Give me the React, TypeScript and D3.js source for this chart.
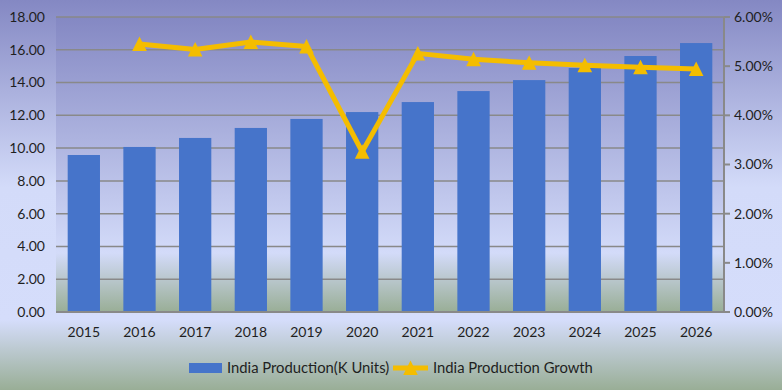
import React, { Component, createRef } from "react";
import * as d3 from 'd3';

const years = ['2015', '2016', '2017', '2018', '2019', '2020', '2021', '2022', '2023', '2024', '2025', '2026'];
const production = [9.58, 10.07, 10.62, 11.23, 11.78, 12.2, 12.81, 13.48, 14.15, 14.89, 15.62, 16.41];
const growth: (number | null)[] = [null, 5.45, 5.34, 5.49, 5.40, 3.26, 5.26, 5.14, 5.07, 5.02, 4.98, 4.94];
const leftTicks = [0, 2, 4, 6, 8, 10, 12, 14, 16, 18];
const rightTicks = [0, 1, 2, 3, 4, 5, 6];
const seriesNames = ['India Production(K Units)', 'India Production Growth'];

const barColor = '#4674CA';
const lineColor = '#F4BD00';
const gridColor = '#898989';
const textColor = '#1f1f1f';
const font = 'Lato, "Noto Sans", sans-serif';

class App extends Component {
    ref = createRef<HTMLDivElement>();

    componentDidMount() {
        const w = 782;
        const h = 390;
        const left = 56, right = 724, top = 17, bottom = 312;

        const x = d3.scaleBand<string>()
            .domain(years)
            .range([left, right])
            .paddingInner(0.42)
            .paddingOuter(0.21);
        const y = d3.scaleLinear().domain([0, 18]).range([bottom, top]);
        const yR = d3.scaleLinear().domain([0, 6]).range([bottom, top]);

        const root = d3.select(this.ref.current);
        root.selectAll('*').remove();
        const svg = root.append('svg')
            .attr('width', w)
            .attr('height', h)
            .style('position', 'absolute')
            .style('left', 0)
            .style('top', 0)
            .style('font-family', font);

        const defs = svg.append('defs');
        const bg = defs.append('linearGradient').attr('id', 'bgGrad')
            .attr('x1', 0).attr('y1', 0).attr('x2', 0).attr('y2', 1);
        bg.append('stop').attr('offset', '0%').attr('stop-color', '#8488C3');
        bg.append('stop').attr('offset', '48%').attr('stop-color', '#D3DBF9');
        bg.append('stop').attr('offset', '82%').attr('stop-color', '#D5DDFB');
        bg.append('stop').attr('offset', '100%').attr('stop-color', '#99AE96');

        const pg = defs.append('linearGradient').attr('id', 'plotGrad')
            .attr('x1', 0).attr('y1', 0).attr('x2', 0).attr('y2', 1);
        pg.append('stop').attr('offset', '0%').attr('stop-color', '#8488C3');
        pg.append('stop').attr('offset', '80%').attr('stop-color', '#D3DBF9');
        pg.append('stop').attr('offset', '100%').attr('stop-color', '#99AE96');

        svg.append('rect').attr('width', w).attr('height', h).attr('fill', 'url(#bgGrad)');
        svg.append('rect')
            .attr('x', left).attr('y', top)
            .attr('width', right - left).attr('height', bottom - top)
            .attr('fill', 'url(#plotGrad)');

        // gridlines
        svg.selectAll('.grid')
            .data(leftTicks)
            .enter()
            .append('line')
            .attr('x1', left).attr('x2', right)
            .attr('y1', d => y(d)).attr('y2', d => y(d))
            .attr('stroke', gridColor)
            .attr('stroke-width', d => d === 0 ? 2 : 1.5);

        // left labels
        svg.selectAll('.ylab')
            .data(leftTicks)
            .enter()
            .append('text')
            .text(d => d.toFixed(2))
            .attr('x', 45)
            .attr('y', d => y(d))
            .attr('dy', '0.35em')
            .attr('text-anchor', 'end')
            .attr('font-size', '14px')
            .attr('fill', textColor);

        // bars
        svg.selectAll('.bar')
            .data(production)
            .enter()
            .append('rect')
            .attr('x', (d, i) => x(years[i]) as number)
            .attr('y', d => y(d))
            .attr('width', x.bandwidth())
            .attr('height', d => bottom - y(d))
            .attr('fill', barColor);

        // bottom axis line again over bars
        svg.append('line')
            .attr('x1', left).attr('x2', right)
            .attr('y1', bottom).attr('y2', bottom)
            .attr('stroke', gridColor).attr('stroke-width', 2);

        // year labels
        svg.selectAll('.xlab')
            .data(years)
            .enter()
            .append('text')
            .text(d => d)
            .attr('x', d => (x(d) as number) + x.bandwidth() / 2)
            .attr('y', 332)
            .attr('dy', '0.35em')
            .attr('text-anchor', 'middle')
            .attr('font-size', '14px')
            .attr('fill', textColor);

        // right axis
        svg.append('line')
            .attr('x1', right).attr('x2', right)
            .attr('y1', top).attr('y2', bottom + 1)
            .attr('stroke', gridColor).attr('stroke-width', 2);
        svg.selectAll('.rtick')
            .data(rightTicks)
            .enter()
            .append('line')
            .attr('x1', right).attr('x2', right + 6)
            .attr('y1', d => yR(d)).attr('y2', d => yR(d))
            .attr('stroke', gridColor).attr('stroke-width', 2);
        svg.selectAll('.rlab')
            .data(rightTicks)
            .enter()
            .append('text')
            .text(d => d.toFixed(2) + '%')
            .attr('x', 734)
            .attr('y', d => yR(d))
            .attr('dy', '0.35em')
            .attr('font-size', '14px')
            .attr('fill', textColor);

        // growth line
        const cx = (i: number) => (x(years[i]) as number) + x.bandwidth() / 2;
        const line = d3.line<number | null>()
            .defined(d => d !== null)
            .x((d, i) => cx(i))
            .y(d => yR(d as number));
        svg.append('path')
            .datum(growth)
            .attr('d', line)
            .attr('fill', 'none')
            .attr('stroke', lineColor)
            .attr('stroke-width', 5)
            .attr('stroke-linejoin', 'round');

        const tri = 'M0,-7.5L7.3,7L-7.3,7Z';
        svg.selectAll('.marker')
            .data(growth.map((d, i) => ({ d, i })).filter(p => p.d !== null))
            .enter()
            .append('path')
            .attr('d', tri)
            .attr('transform', p => `translate(${cx(p.i)},${yR(p.d as number)})`)
            .attr('fill', lineColor);

        // legend
        const ly = 368;
        svg.append('rect')
            .attr('x', 189).attr('y', ly - 5)
            .attr('width', 33).attr('height', 10)
            .attr('fill', barColor);
        svg.append('text')
            .text(seriesNames[0])
            .attr('x', 227).attr('y', ly)
            .attr('dy', '0.35em')
            .attr('font-size', '14.8px')
            .attr('fill', textColor);
        svg.append('line')
            .attr('x1', 393).attr('x2', 428)
            .attr('y1', ly).attr('y2', ly)
            .attr('stroke', lineColor).attr('stroke-width', 5);
        svg.append('path')
            .attr('d', tri)
            .attr('transform', `translate(410.5,${ly})`)
            .attr('fill', lineColor);
        svg.append('text')
            .text(seriesNames[1])
            .attr('x', 433).attr('y', ly)
            .attr('dy', '0.35em')
            .attr('font-size', '14.8px')
            .attr('fill', textColor);
    }

    render() {
        return (
            <>
            <div ref={this.ref}></div>
            </>
        )
    }
}

export default App;
